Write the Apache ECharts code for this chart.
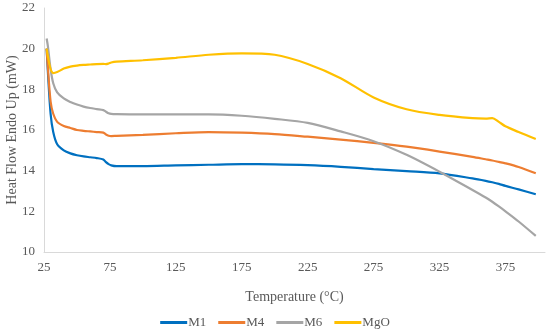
<!DOCTYPE html>
<html><head><meta charset="utf-8">
<script src="https://cdn.jsdelivr.net/npm/echarts@6/dist/echarts.min.js"></script>
<style>html,body{margin:0;padding:0;background:#fff}#c{width:550px;height:335px}</style>
</head><body><div id="c"></div>
<script>
const temps = [27, 28, 30, 32, 35, 40, 45, 50, 55, 60, 65, 70, 72, 74, 76, 80, 100, 125, 150, 175, 200, 225, 250, 275, 300, 325, 350, 360, 365, 370, 375, 385, 398];
const m1  = [20.0, 18.8, 16.8, 15.9, 15.3, 15.0, 14.85, 14.76, 14.70, 14.66, 14.62, 14.55, 14.42, 14.32, 14.26, 14.22, 14.22, 14.26, 14.29, 14.32, 14.31, 14.27, 14.19, 14.08, 13.98, 13.87, 13.62, 13.50, 13.43, 13.35, 13.25, 13.08, 12.84];
const m4  = [20.0, 19.0, 17.4, 16.8, 16.4, 16.2, 16.1, 16.0, 15.96, 15.93, 15.9, 15.87, 15.78, 15.72, 15.70, 15.71, 15.76, 15.84, 15.90, 15.87, 15.80, 15.67, 15.53, 15.37, 15.18, 14.94, 14.68, 14.56, 14.50, 14.43, 14.36, 14.18, 13.87];
const m6  = [20.5, 20.1, 19.0, 18.3, 17.85, 17.55, 17.38, 17.25, 17.15, 17.08, 17.03, 16.98, 16.90, 16.82, 16.79, 16.78, 16.77, 16.77, 16.77, 16.70, 16.55, 16.35, 15.93, 15.45, 14.78, 13.95, 13.05, 12.68, 12.47, 12.24, 12.00, 11.50, 10.79];
const mgo = [20.0, 19.6, 19.0, 18.8, 18.85, 19.02, 19.12, 19.17, 19.20, 19.22, 19.24, 19.25, 19.24, 19.27, 19.32, 19.36, 19.43, 19.55, 19.70, 19.77, 19.70, 19.25, 18.55, 17.60, 17.02, 16.74, 16.58, 16.56, 16.58, 16.40, 16.18, 15.90, 15.56];
const seriesNames = ['M1', 'M4', 'M6', 'MgO'];
const seriesValues = [m1, m4, m6, mgo];
const colors = ['#0070C0', '#ED7D31', '#A5A5A5', '#FFC000'];
const xTicks = {min: 25, max: 405, interval: 50};
const yTicks = {min: 10, max: 22, interval: 2};

const font = 'Liberation Serif';
const textColor = '#595959';
const chart = echarts.init(document.getElementById('c'), null, {renderer: 'canvas'});
chart.setOption({
  animation: false,
  color: colors,
  grid: {left: 44, right: 5, top: 8, bottom: 83, containLabel: false, outerBoundsMode: 'none'},
  legend: {
    bottom: 1, left: 'center', itemWidth: 27, itemHeight: 3, itemGap: 12,
    icon: 'rect',
    textStyle: {fontFamily: font, fontSize: 13, color: textColor, padding: [0, 0, 0, -4]},
    data: seriesNames
  },
  xAxis: {
    type: 'value', min: xTicks.min, max: xTicks.max, interval: xTicks.interval,
    name: 'Temperature (°C)', nameLocation: 'middle', nameGap: 38, nameMoveOverlap: false,
    nameTextStyle: {fontFamily: font, fontSize: 14, color: textColor},
    axisLine: {show: true, lineStyle: {color: '#D9D9D9', width: 1}},
    axisTick: {show: false}, splitLine: {show: false},
    axisLabel: {fontFamily: font, fontSize: 13, color: textColor, margin: 9,
      formatter: v => (v > 400 ? '' : String(v))}
  },
  yAxis: {
    type: 'value', min: yTicks.min, max: yTicks.max, interval: yTicks.interval,
    name: 'Heat Flow Endo Up (mW)', nameLocation: 'middle', nameGap: 25, nameMoveOverlap: false,
    nameTextStyle: {fontFamily: font, fontSize: 14, color: textColor},
    axisLine: {show: true, lineStyle: {color: '#D9D9D9', width: 1}},
    axisTick: {show: false}, splitLine: {show: false},
    axisLabel: {fontFamily: font, fontSize: 13, color: textColor, margin: 9}
  },
  series: seriesNames.map((n, i) => ({
    name: n, type: 'line', smooth: 0.3, showSymbol: false, symbol: 'none',
    lineStyle: {width: 2.2, color: colors[i]},
    data: temps.map((t, j) => [t, seriesValues[i][j]])
  }))
});
</script></body></html>
